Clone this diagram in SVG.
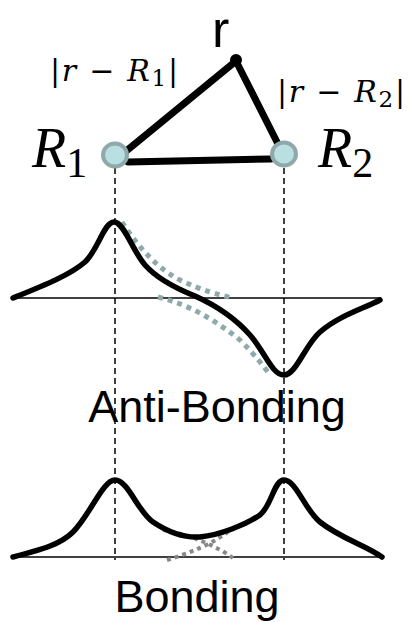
<svg xmlns="http://www.w3.org/2000/svg" width="410" height="622" viewBox="0 0 410 622">
<style>
.curve{fill:none;stroke:#000;stroke-width:5.5;stroke-linecap:round;stroke-linejoin:round}
.axis{fill:none;stroke:#000;stroke-width:1.5}
.vdash{fill:none;stroke:#000;stroke-width:1.5;stroke-dasharray:6 4}
.gdot{fill:none;stroke:#8fa9ab;stroke-width:5;stroke-dasharray:5 5}
.gdot2{fill:none;stroke:#888;stroke-width:4;stroke-dasharray:4 4}
.edge{fill:none;stroke:#000;stroke-width:7;stroke-linecap:round}
.atom{fill:#b9dfe2;stroke:#8fa9ab;stroke-width:4}
.math{font-family:"Liberation Serif",serif;fill:#000}
.math2{font-family:"DejaVu Serif",serif;fill:#000}
.it{font-style:italic}
.lbl{font-family:"Liberation Sans",Arial,sans-serif;fill:#000}
</style>
<g id="connectors">
<line class="vdash" x1="115" y1="168" x2="115" y2="560"/>
<line class="vdash" x1="284" y1="168" x2="284" y2="560"/>
<line class="edge" x1="125" y1="152" x2="236" y2="61"/>
<line class="edge" x1="236" y1="61" x2="279" y2="146"/>
<line class="edge" x1="128" y1="162" x2="271" y2="159"/>
</g>
<g id="r-point">
<circle cx="236" cy="60" r="6" fill="#000"/>
<text class="lbl" x="212" y="47" font-size="52">r</text>
</g>
<g id="R1">
<ellipse class="atom" cx="115" cy="155" rx="12" ry="11.5"/>
<text class="math" x="32" y="167" font-size="56"><tspan class="it">R</tspan><tspan font-size="42" dy="10">1</tspan></text>
</g>
<g id="R2">
<ellipse class="atom" cx="284" cy="154" rx="12" ry="11.5"/>
<text class="math" x="318" y="167" font-size="56"><tspan class="it">R</tspan><tspan font-size="42" dy="10">2</tspan></text>
</g>
<g id="dist1">
<text class="math2" x="50" y="81" font-size="30" textLength="128" lengthAdjust="spacing">|<tspan class="it">r</tspan> − <tspan class="it">R</tspan><tspan font-size="23" dy="5">1</tspan><tspan dy="-5">|</tspan></text>
</g>
<g id="dist2">
<text class="math2" x="277" y="102" font-size="30" textLength="128" lengthAdjust="spacing">|<tspan class="it">r</tspan> − <tspan class="it">R</tspan><tspan font-size="23" dy="5">2</tspan><tspan dy="-5">|</tspan></text>
</g>
<g id="antibonding">
<line class="axis" x1="13" y1="298" x2="381" y2="298"/>
<path class="gdot" d="M122,222 C140,250 160,270 180,280 C200,290 220,295 233,298"/>
<path class="gdot" d="M158,297 C190,305 215,320 240,340 C255,355 265,368 270,375"/>
<path class="curve" d="M13,298 C45,285 70,275 85,262 C98,250 104,222 114,222 C124,222 132,250 145,265 C160,282 185,292 195,296 C215,305 235,318 250,335 C265,352 272,375 284,375 C296,375 305,345 320,332 C340,315 365,308 380,300"/>
<text class="lbl" x="217" y="422" font-size="45" text-anchor="middle">Anti-Bonding</text>
</g>
<g id="bonding">
<line class="axis" x1="13" y1="557" x2="382" y2="557"/>
<path class="gdot2" d="M163,530 C190,535 215,545 233,558"/>
<path class="gdot2" d="M167,560 C190,553 215,543 230,530"/>
<path class="curve" d="M13,557 C40,550 60,545 73,532 C90,515 103,480 115,480 C128,480 138,512 153,522 C168,532 185,538 200,537 C220,535 245,525 260,515 C272,505 274,480 284,480 C296,480 305,510 320,522 C340,538 365,545 382,557"/>
<text class="lbl" x="197" y="612" font-size="45" text-anchor="middle">Bonding</text>
</g>
</svg>
